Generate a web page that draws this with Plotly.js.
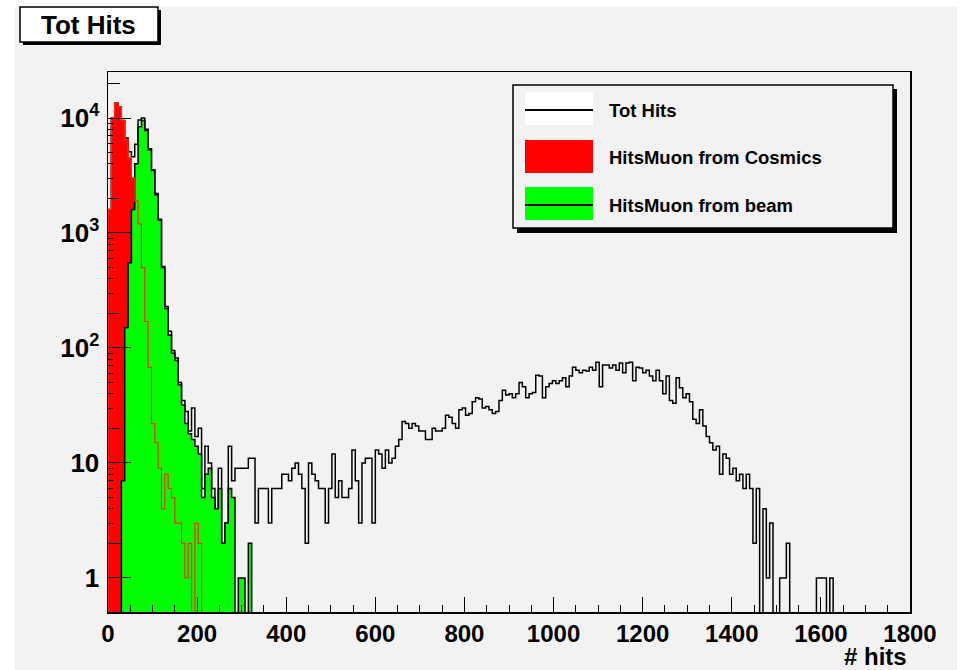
<!DOCTYPE html>
<html>
<head>
<meta charset="utf-8">
<script src="https://cdn.plot.ly/plotly-3.0.1.min.js"></script>
<style>
html,body{margin:0;padding:0;background:#ffffff;}
#chart{width:960px;height:670px;}
</style>
</head>
<body>
<div id="chart"></div>
<script>
// ---------------- data (bin contents, bin width 7.5 hits, starting at 0) ----------------
const BIN_WIDTH = 7.5;
const X_RANGE = [0, 1800];

const totHits = [
  1600, 10000, 13500, 12500, 9500, 6700, 5100, 4600, 5900, 9600,
  10000, 8000, 5400, 3550, 2200, 1320, 510, 230, 140, 95,
  82, 50, 35, 28, 19, 30, 17, 20, 6, 14,
  10, 6, 4, 9, 2, 3, 14, 7, 9, 9,
  9, 9, 11, 11, 3, 6, 6, 6, 3, 6,
  6, 6, 8, 8, 7, 9, 10, 8, 6, 2,
  10, 8, 7, 6, 6, 3, 6, 12, 5, 7,
  5, 5, 6, 13, 7, 3, 10, 11, 11, 3,
  13, 12, 9, 13, 10, 11, 14, 16, 23, 22,
  20, 22, 21, 19, 19, 16, 16, 20, 19, 19,
  20, 26, 25, 22, 20, 29, 30, 26, 27, 34,
  37, 36, 30, 31, 29, 27, 28, 35, 43, 39,
  40, 37, 40, 50, 46, 37, 40, 41, 58, 57,
  37, 46, 49, 52, 49, 52, 55, 46, 57, 68,
  64, 61, 64, 63, 68, 64, 75, 46, 71, 71,
  67, 71, 64, 74, 61, 74, 75, 52, 68, 67,
  61, 64, 57, 52, 64, 52, 40, 57, 35, 33,
  55, 45, 37, 40, 34, 24, 22, 29, 21, 17,
  15, 13, 14, 8, 12, 11, 8, 9, 7, 8,
  6, 8, 6, 2, 6, 0, 4, 1, 3, 0,
  0, 1, 1, 2, 0, 0, 0, 0, 0, 0,
  0, 0, 1, 1, 1, 0, 1
];

const cosmics = [
  1600, 10000, 13500, 12500, 9500, 6500, 4500, 3000, 1900, 1200,
  500, 170, 68, 22, 15, 9, 4, 8, 6, 5,
  3, 3, 2, 1, 2, 0, 3, 2
];

const beam = [
  0, 0, 0, 0, 7, 150, 550, 1600, 4000, 8400,
  9500, 7800, 5300, 3500, 2150, 1300, 500, 220, 130, 90,
  78, 48, 32, 22, 18, 16, 14, 12, 5, 8,
  9, 5, 4, 6, 2, 3, 6, 5, 0, 1,
  1, 0, 2
];

const seriesNames = ['Tot Hits', 'HitsMuon from Cosmics', 'HitsMuon from beam'];
const xTickVals = [0, 200, 400, 600, 800, 1000, 1200, 1400, 1600, 1800];
const yTickVals = [1, 10, 100, 1000, 10000];
const yTickText = ['1', '10', '10<sup>2</sup>', '10<sup>3</sup>', '10<sup>4</sup>'];
const yMedTicks = [2, 20, 200, 2000, 20000];
const yMinorTicks = [3,4,5,6,7,8,9,30,40,50,60,70,80,90,300,400,500,600,700,800,900,3000,4000,5000,6000,7000,8000,9000];
const xTitle = '# hits';
const chartTitle = 'Tot Hits';

// ---------------- helpers ----------------
const FLOOR = 0.1; // below the visible log range: empty bins drop out of the frame
function stepPath(vals) {
  const xs = [0], ys = [FLOOR];
  vals.forEach((v, i) => { xs.push(i * BIN_WIDTH); ys.push(v > 0 ? v : FLOOR); });
  xs.push(vals.length * BIN_WIDTH); ys.push(FLOOR);
  return {xs, ys};
}

const W = 960, H = 670;
const M = {l: 108, r: 50, t: 72, b: 58};
const PW = W - M.l - M.r, PH = H - M.t - M.b;
const px = x => (x - M.l) / PW;
const py = y => (H - M.b - y) / PH;
const FONT = 'Liberation Sans, Arial, Helvetica, sans-serif';

const pTot = stepPath(totHits);
const pCos = stepPath(cosmics);
const pBeam = stepPath(beam);

const traces = [
  {type: 'scatter', mode: 'lines', name: seriesNames[0], x: pTot.xs, y: pTot.ys,
   line: {color: '#000000', width: 1.5, shape: 'hv', simplify: false}, hoverinfo: 'skip'},
  {type: 'scatter', mode: 'lines', name: seriesNames[1], x: pCos.xs, y: pCos.ys,
   fill: 'toself', fillcolor: '#ff0000',
   line: {color: '#ff0000', width: 1.2, shape: 'hv', simplify: false}, hoverinfo: 'skip'},
  {type: 'scatter', mode: 'lines', name: seriesNames[2], x: pBeam.xs, y: pBeam.ys,
   fill: 'toself', fillcolor: '#00ff00',
   line: {color: '#000000', width: 1.5, shape: 'hv', simplify: false}, hoverinfo: 'skip'},
  // cosmics outline redrawn on top of the beam fill (as in the original canvas)
  {type: 'scatter', mode: 'lines', name: seriesNames[1], x: pCos.xs, y: pCos.ys,
   line: {color: '#ff2a00', width: 1.2, shape: 'hv', simplify: false}, hoverinfo: 'skip', showlegend: false},
  // carrier for the medium-length tick axis
  {type: 'scatter', mode: 'markers', x: [X_RANGE[0]], y: [yTickVals[0]], yaxis: 'y2',
   marker: {opacity: 0}, hoverinfo: 'skip', showlegend: false}
];

const shapes = [
  // canvas
  {type: 'rect', xref: 'paper', yref: 'paper', x0: px(15), x1: px(957), y0: py(7), y1: py(672),
   fillcolor: '#f2f2f2', line: {width: 0}, layer: 'below'},
  // title pave
  {type: 'rect', xref: 'paper', yref: 'paper', x0: px(23), x1: px(161), y0: py(10), y1: py(45),
   fillcolor: '#000000', line: {width: 0}},
  {type: 'rect', xref: 'paper', yref: 'paper', x0: px(20), x1: px(158), y0: py(7), y1: py(42),
   fillcolor: '#ffffff', line: {color: '#000000', width: 1.5}},
  // legend pave
  {type: 'rect', xref: 'paper', yref: 'paper', x0: px(517), x1: px(897), y0: py(89), y1: py(233),
   fillcolor: '#000000', line: {width: 0}},
  {type: 'rect', xref: 'paper', yref: 'paper', x0: px(513), x1: px(893), y0: py(85), y1: py(228),
   fillcolor: '#f2f2f2', line: {color: '#000000', width: 1.5}},
  // legend symbols
  {type: 'rect', xref: 'paper', yref: 'paper', x0: px(525), x1: px(593), y0: py(92), y1: py(125),
   fillcolor: '#ffffff', line: {width: 0}},
  {type: 'line', xref: 'paper', yref: 'paper', x0: px(525), x1: px(593), y0: py(110), y1: py(110),
   line: {color: '#000000', width: 2}},
  {type: 'rect', xref: 'paper', yref: 'paper', x0: px(525), x1: px(593), y0: py(140), y1: py(173),
   fillcolor: '#ff0000', line: {width: 0}},
  {type: 'rect', xref: 'paper', yref: 'paper', x0: px(525), x1: px(593), y0: py(187), y1: py(220),
   fillcolor: '#00ff00', line: {width: 0}},
  {type: 'line', xref: 'paper', yref: 'paper', x0: px(525), x1: px(593), y0: py(205), y1: py(205),
   line: {color: '#000000', width: 2}}
];

const annotations = [
  {text: chartTitle, xref: 'paper', yref: 'paper', x: px(88), y: py(25), xanchor: 'center', yanchor: 'middle',
   showarrow: false, font: {family: FONT, size: 26, color: '#000000', weight: 'bold'}},
  {text: seriesNames[0], xref: 'paper', yref: 'paper', x: px(607), y: py(110), xanchor: 'left', yanchor: 'middle',
   showarrow: false, font: {family: FONT, size: 18.5, color: '#000000', weight: 'bold'}},
  {text: seriesNames[1], xref: 'paper', yref: 'paper', x: px(607), y: py(157), xanchor: 'left', yanchor: 'middle',
   showarrow: false, font: {family: FONT, size: 18.5, color: '#000000', weight: 'bold'}},
  {text: seriesNames[2], xref: 'paper', yref: 'paper', x: px(607), y: py(205), xanchor: 'left', yanchor: 'middle',
   showarrow: false, font: {family: FONT, size: 18.5, color: '#000000', weight: 'bold'}},
  {text: xTitle, xref: 'paper', yref: 'paper', x: px(909), y: py(656), xanchor: 'right', yanchor: 'middle',
   showarrow: false, font: {family: FONT, size: 24, color: '#000000', weight: 'bold'}}
];

const yRange = [Math.log10(0.506), 4.40];

const layout = {
  width: W, height: H,
  margin: M,
  paper_bgcolor: '#ffffff',
  plot_bgcolor: 'rgba(0,0,0,0)',
  showlegend: false,
  font: {family: FONT, color: '#000000'},
  xaxis: {
    range: X_RANGE, tickmode: 'array', tickvals: xTickVals,
    ticks: 'inside', ticklen: 15, tickwidth: 1, tickcolor: '#000000',
    showline: true, linecolor: '#000000', linewidth: 1.5, mirror: true,
    showgrid: false, zeroline: false,
    tickfont: {family: FONT, size: 24, color: '#000000', weight: 'bold'},
    minor: {dtick: 50, tick0: 0, ticks: 'inside', ticklen: 7, tickwidth: 1, tickcolor: '#000000', showgrid: false}
  },
  yaxis: {
    type: 'log', range: yRange, tickmode: 'array', tickvals: yTickVals, ticktext: yTickText,
    ticks: 'inside', ticklen: 23, tickwidth: 1, tickcolor: '#000000',
    showline: true, linecolor: '#000000', linewidth: 1.5, mirror: true,
    showgrid: false, zeroline: false, ticklabelstandoff: 2,
    tickfont: {family: FONT, size: 26, color: '#000000', weight: 'bold'},
    minor: {tickmode: 'array', tickvals: yMinorTicks, ticks: 'inside', ticklen: 5, tickwidth: 1, tickcolor: '#000000', showgrid: false}
  },
  yaxis2: {
    type: 'log', range: yRange, overlaying: 'y', side: 'left',
    tickmode: 'array', tickvals: yMedTicks, ticks: 'inside', ticklen: 12, tickwidth: 1, tickcolor: '#000000',
    showticklabels: false, showline: false, showgrid: false, zeroline: false
  },
  shapes: shapes,
  annotations: annotations
};

Plotly.newPlot('chart', traces, layout, {displayModeBar: false, staticPlot: true});
</script>
</body>
</html>
